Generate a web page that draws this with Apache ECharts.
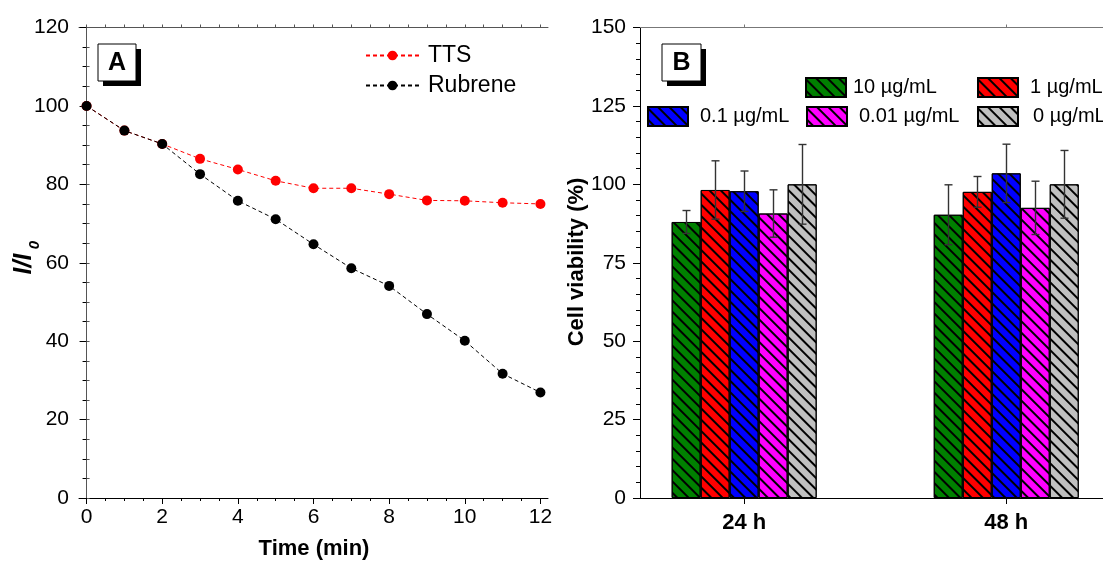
<!DOCTYPE html>
<html><head><meta charset="utf-8">
<script src="https://cdn.jsdelivr.net/npm/echarts@6/dist/echarts.min.js"></script>
<style>html,body{margin:0;padding:0;background:#fff}#c{width:1103px;height:564px}</style>
</head><body><div id="c"></div>
<script>
// ---------- Panel A data ----------
const timeMin = [0, 1, 2, 3, 4, 5, 6, 7, 8, 9, 10, 11, 12];
const ttsValues = [100, 93.7, 90.3, 86.5, 83.8, 80.9, 79.0, 79.0, 77.5, 75.9, 75.8, 75.3, 75.0];
const rubreneValues = [100, 93.7, 90.3, 82.6, 75.8, 71.1, 64.7, 58.6, 54.1, 46.9, 40.1, 31.7, 26.9];
const xTickLabelsA = [0, 2, 4, 6, 8, 10, 12];
const xMinorTicksA = [0, 0.5, 1, 1.5, 2, 2.5, 3, 3.5, 4, 4.5, 5, 5.5, 6, 6.5, 7, 7.5, 8, 8.5, 9, 9.5, 10, 10.5, 11, 11.5, 12];

// ---------- Panel B data ----------
const groupLabels = ['24 h', '48 h'];
const groupHours = [24, 48];
const concNames = ['10 µg/mL', '1 µg/mL', '0.1 µg/mL', '0.01 µg/mL', '0 µg/mL'];
const conc10 = [88.0, 90.3];
const conc1 = [98.2, 97.6];
const conc01 = [97.8, 103.5];
const conc001 = [90.7, 92.5];
const conc0 = [100.0, 100.0];
const err10 = [3.65, 9.55];
const err1 = [9.3, 4.9];
const err01 = [6.45, 9.3];
const err001 = [7.55, 8.5];
const err0 = [12.7, 10.8];

const concValues = [conc10, conc1, conc01, conc001, conc0];
const concErrors = [err10, err1, err01, err001, err0];
const concColors = ['#008000', '#ff0000', '#0000ff', '#ff00ff', '#c0c0c0'];

const FONT = 'Liberation Sans, Arial, sans-serif';
const BAR_W = 29;

const chart = echarts.init(document.getElementById('c'), null, {renderer: 'canvas'});

function makeErr(i) {
  return function (params, api) {
    const x = api.value(0), lo = api.value(1), hi = api.value(2);
    const a = api.coord([x, hi]), b = api.coord([x, lo]);
    const cx = Math.round(a[0] + (i - 2) * BAR_W) + 0.5;
    const st = {stroke: '#333', lineWidth: 1.4};
    return {type: 'group', children: [
      {type: 'line', shape: {x1: cx, y1: a[1], x2: cx, y2: b[1]}, style: st},
      {type: 'line', shape: {x1: cx - 4, y1: a[1], x2: cx + 4, y2: a[1]}, style: st},
      {type: 'line', shape: {x1: cx - 4, y1: b[1], x2: cx + 4, y2: b[1]}, style: st}
    ]};
  };
}

const series = [];
series.push({
  name: 'TTS', type: 'line', xAxisIndex: 0, yAxisIndex: 0,
  data: timeMin.map((t, k) => [t, ttsValues[k]]),
  symbol: 'circle', symbolSize: 10, z: 3,
  itemStyle: {color: '#ff0000'},
  lineStyle: {color: '#ff0000', width: 1, type: [4, 3]}
});
series.push({
  name: 'Rubrene', type: 'line', xAxisIndex: 0, yAxisIndex: 0,
  data: timeMin.map((t, k) => [t, rubreneValues[k]]),
  symbol: 'circle', symbolSize: 10, z: 4,
  itemStyle: {color: '#000000'},
  lineStyle: {color: '#000000', width: 1, type: [4, 3]}
});
concNames.forEach((nm, i) => {
  series.push({
    name: nm, type: 'bar', xAxisIndex: 3, yAxisIndex: 2,
    barWidth: BAR_W, barGap: '0%',
    data: groupHours.map((h, k) => [h, concValues[i][k]]),
    itemStyle: {
      color: concColors[i], borderColor: '#000', borderWidth: 1,
      decal: {symbol: 'rect', symbolSize: 1, dashArrayX: [1, 0], dashArrayY: [1.5, 5.5], rotation: Math.PI / 4, color: '#000'}
    }
  });
});
concNames.forEach((nm, i) => {
  series.push({
    name: 'err' + i, type: 'custom', xAxisIndex: 3, yAxisIndex: 2, z: 5,
    renderItem: makeErr(i),
    encode: {x: 0, y: [1, 2]},
    data: groupHours.map((h, k) => [h, concValues[i][k] - concErrors[i][k], concValues[i][k] + concErrors[i][k]])
  });
});

const tickLabelStyle = {color: '#000', fontSize: 21, fontFamily: FONT};

function box(x, y, w, h, letter) {
  return {type: 'group', children: [
    {type: 'rect', shape: {x: x + 5, y: y + 5, width: w, height: h}, style: {fill: '#000'}},
    {type: 'rect', shape: {x: x, y: y, width: w, height: h}, style: {fill: '#fff', stroke: '#000', lineWidth: 1}},
    {type: 'text', x: x + w / 2, y: y + h / 2 + 1, style: {text: letter, align: 'center', verticalAlign: 'middle', font: 'bold 25px ' + FONT, fill: '#000'}}
  ]};
}

const legendsB = [
  {name: concNames[0], left: 805, top: 77, pad: 2},
  {name: concNames[1], left: 977, top: 77, pad: 7},
  {name: concNames[2], left: 647, top: 106, pad: 7},
  {name: concNames[3], left: 806, top: 106, pad: 7},
  {name: concNames[4], left: 977, top: 106, pad: 10}
].map(l => ({
  data: [{name: l.name, icon: 'rect'}], left: l.left, top: l.top, padding: 0,
  itemWidth: 40, itemHeight: 19, selectedMode: false,
  textStyle: {fontSize: 20, fontFamily: FONT, color: '#000', padding: [0, 0, 0, l.pad]}
}));

const option = {
  animation: false,
  backgroundColor: '#fff',
  grid: [
    {left: 79, right: 555, top: 27.5, bottom: 66},
    {left: 640, right: 0, top: 27.5, bottom: 66}
  ],
  legend: [
    {data: ['TTS'], left: 365, top: 44, padding: 0, itemWidth: 53, itemHeight: 12, selectedMode: false,
     textStyle: {fontSize: 23, fontFamily: FONT, color: '#000', padding: [0, 0, 0, 4]}},
    {data: ['Rubrene'], left: 365, top: 74, padding: 0, itemWidth: 53, itemHeight: 12, selectedMode: false,
     textStyle: {fontSize: 23, fontFamily: FONT, color: '#000', padding: [0, 0, 0, 4]}}
  ].concat(legendsB),
  xAxis: [
    {gridIndex: 0, type: 'value', position: 'bottom', min: -0.2, max: 12.2,
     axisLine: {lineStyle: {color: '#000', width: 1}},
     axisTick: {customValues: xTickLabelsA, length: 6, lineStyle: {color: '#000'}},
     axisLabel: {customValues: xTickLabelsA, margin: 9, ...tickLabelStyle},
     splitLine: {show: false}},
    {gridIndex: 0, type: 'value', position: 'bottom', min: -0.2, max: 12.2,
     axisLine: {show: false},
     axisTick: {customValues: xMinorTicksA, length: 3, lineStyle: {color: '#000'}},
     axisLabel: {show: false}, splitLine: {show: false}},
    {gridIndex: 0, type: 'value', position: 'top', min: -0.2, max: 12.2,
     axisLine: {lineStyle: {color: '#555', width: 1}},
     axisTick: {customValues: xMinorTicksA, length: 3, lineStyle: {color: '#555'}},
     axisLabel: {show: false}, splitLine: {show: false}},
    {gridIndex: 1, type: 'value', position: 'bottom', min: 14.46, max: 56.86,
     axisLine: {lineStyle: {color: '#000', width: 1}},
     axisTick: {customValues: groupHours, length: 6, lineStyle: {color: '#000'}},
     axisLabel: {customValues: groupHours, margin: 14, color: '#000', fontSize: 22, fontWeight: 'bold', fontFamily: FONT,
                 formatter: v => groupLabels[groupHours.indexOf(v)]},
     splitLine: {show: false}},
    {gridIndex: 1, type: 'value', position: 'top', min: 14.46, max: 56.86,
     axisLine: {lineStyle: {color: '#777', width: 1}},
     axisTick: {customValues: groupHours, length: 3, lineStyle: {color: '#777'}},
     axisLabel: {show: false}, splitLine: {show: false}}
  ],
  yAxis: [
    {gridIndex: 0, type: 'value', position: 'left', min: 0, max: 120, interval: 20,
     axisLine: {show: true, lineStyle: {color: '#000', width: 1}},
     axisTick: {show: true, length: 7, lineStyle: {color: '#000'}},
     minorTick: {show: true, splitNumber: 4, length: 4, lineStyle: {color: '#000'}},
     axisLabel: {margin: 10, ...tickLabelStyle},
     splitLine: {show: false}},
    {gridIndex: 0, type: 'value', position: 'right', min: 0, max: 120, interval: 5,
     axisLine: {show: true, lineStyle: {color: '#555', width: 1}},
     axisTick: {show: true, length: 3, lineStyle: {color: '#555'}},
     axisLabel: {show: false}, splitLine: {show: false}},
    {gridIndex: 1, type: 'value', position: 'left', min: 0, max: 150, interval: 25,
     axisLine: {show: true, lineStyle: {color: '#000', width: 1}},
     axisTick: {show: true, length: 7, lineStyle: {color: '#000'}},
     minorTick: {show: true, splitNumber: 5, length: 4, lineStyle: {color: '#000'}},
     axisLabel: {margin: 14, ...tickLabelStyle},
     splitLine: {show: false}}
  ],
  graphic: [
    box(98, 44, 38, 37, 'A'),
    box(662, 44, 39, 37, 'B'),
    {type: 'text', x: 314, y: 549, style: {text: 'Time (min)', align: 'center', verticalAlign: 'middle', font: 'bold 22px ' + FONT, fill: '#000'}},
    {type: 'text', x: 577, y: 262, rotation: Math.PI / 2, style: {text: 'Cell viability (%)', align: 'center', verticalAlign: 'middle', font: 'bold 22px ' + FONT, fill: '#000'}},
    {type: 'text', x: 24, y: 264, rotation: Math.PI / 2, style: {text: 'I/I', align: 'center', verticalAlign: 'middle', font: 'italic bold 25px ' + FONT, fill: '#000'}},
    {type: 'text', x: 35, y: 245, rotation: Math.PI / 2, style: {text: '0', align: 'center', verticalAlign: 'middle', font: 'italic bold 15px ' + FONT, fill: '#000'}}
  ],
  series: series
};
chart.setOption(option);
</script>
</body></html>
